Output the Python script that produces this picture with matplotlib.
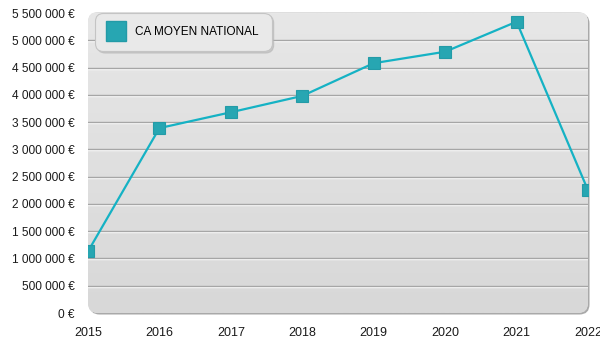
import numpy as np
import matplotlib.pyplot as plt
from matplotlib.patches import FancyBboxPatch
from matplotlib.lines import Line2D
from matplotlib.colors import LinearSegmentedColormap
from matplotlib.ticker import FuncFormatter
import matplotlib.transforms as mtransforms

plt.rcParams['font.family'] = ['Liberation Sans', 'DejaVu Sans']

years = [2015, 2016, 2017, 2018, 2019, 2020, 2021, 2022]
ca_moyen = [1130000, 3390000, 3680000, 3980000, 4580000, 4790000, 5340000, 2250000]
y_ticks = np.arange(0, 5500001, 500000)
series_label = 'CA MOYEN NATIONAL'

W, H = 600, 350
fig = plt.figure(figsize=(W / 100, H / 100), dpi=100)
# plot box in pixels: x 88..588, y 12..313 (from top)
ax = fig.add_axes([88 / W, 1 - 313 / H, 500 / W, 300 / H])

# rounded background box with a soft shadow on right / bottom
asp = W / H
r = 10 / W
shadow = FancyBboxPatch((89.5 / W, 1 - 314.5 / H), 500 / W, 301 / H,
                        boxstyle=f"round,pad=0,rounding_size={r}",
                        mutation_aspect=asp, transform=fig.transFigure,
                        facecolor='#a9a9a9', edgecolor='none', zorder=-2)
fig.add_artist(shadow)
box = FancyBboxPatch((88 / W, 1 - 313 / H), 500 / W, 301 / H,
                     boxstyle=f"round,pad=0,rounding_size={r}",
                     mutation_aspect=asp, transform=fig.transFigure,
                     facecolor='#dedede', edgecolor='none', zorder=-1)
fig.add_artist(box)

cmap = LinearSegmentedColormap.from_list('bg', ['#d8d8d8', '#e7e7e7'])
grad = np.linspace(0, 1, 256).reshape(-1, 1)
ax.set_xlim(years[0], years[-1])
ax.set_ylim(0, 5500000)
img = ax.imshow(grad, extent=(years[0], years[-1], 0, 5500000), origin='lower',
                aspect='auto', cmap=cmap, zorder=0)
img.set_clip_path(box)
ax.set_xlim(years[0], years[-1])
ax.set_ylim(0, 5500000)
ax.patch.set_visible(False)

# grid lines with a white highlight just below
offset = mtransforms.ScaledTranslation(0, -1 / 100, fig.dpi_scale_trans)
ytr = ax.get_yaxis_transform()
for v in y_ticks[1:-1]:
    ax.plot([0, 1], [v, v], color='#ffffff', lw=1, zorder=1, transform=ytr + offset)
    ax.plot([0, 1], [v, v], color='#a6a6a6', lw=1, zorder=1.1, transform=ytr)

ax.plot(years, ca_moyen, color='#15b2c4', lw=1.6, zorder=3,
        marker='s', markersize=9, markerfacecolor='#27a6b2', markeredgecolor='#239ba7',
        markeredgewidth=0.8)

for s in ax.spines.values():
    s.set_visible(False)
ax.set_yticks(y_ticks)
ax.yaxis.set_major_formatter(FuncFormatter(lambda v, p: f"{int(v):,} €".replace(',', ' ')))
ax.set_xticks(years)
ax.tick_params(length=0, colors='#1a1a1a')
ax.tick_params(axis='y', pad=9.5, labelsize=8.6)
ax.tick_params(axis='x', pad=10, labelsize=9)

handle = Line2D([], [], linestyle='none', marker='s', markersize=14,
                markerfacecolor='#27a6b2', markeredgecolor='#239ba7')
leg = ax.legend([handle], [series_label], loc='upper left',
                bbox_to_anchor=(95 / W, 1 - 13 / H), bbox_transform=fig.transFigure,
                fontsize=8.5, frameon=True, fancybox=True, framealpha=1,
                facecolor='#e9e9e9', edgecolor='#c4c4c4', borderpad=1.1,
                handlelength=1.3, handletextpad=1.0, borderaxespad=0,
                shadow={'color': '#b5b5b5', 'alpha': 0.6, 'ox': 1.5, 'oy': -1.5})
leg.get_frame().set_linewidth(0.8)
leg.get_frame().set_boxstyle('round', pad=0, rounding_size=0.7)
leg.set_zorder(5)

fig.savefig('out.png', dpi=100)
